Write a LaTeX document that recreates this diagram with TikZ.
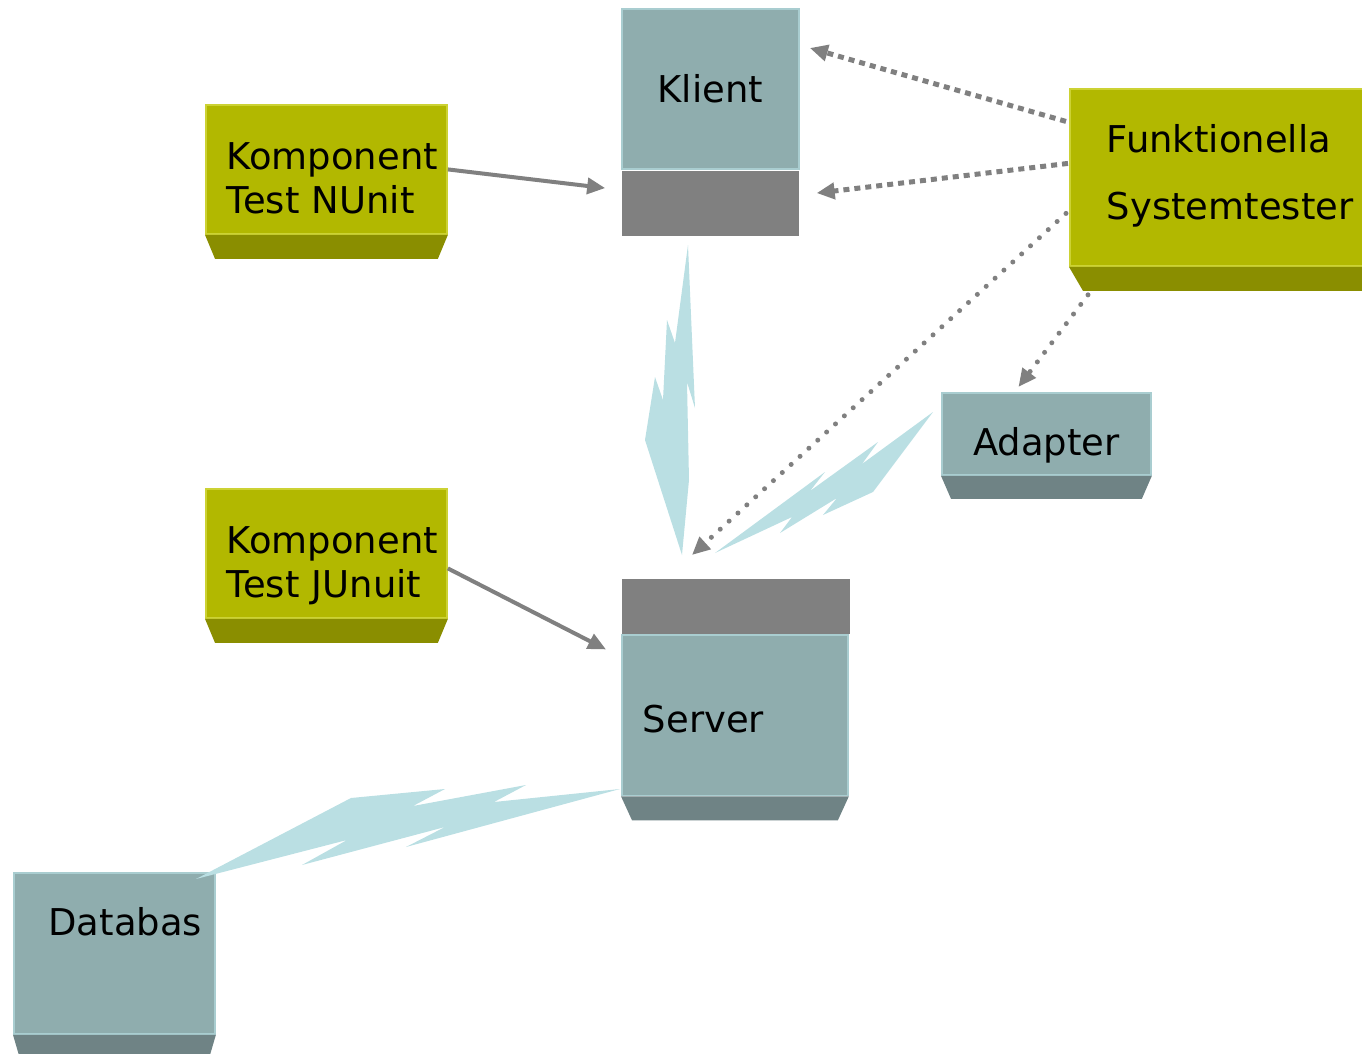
\documentclass[tikz,border=0pt]{standalone}
\usepackage{fontspec}
\setmainfont{DejaVu Sans}
\usetikzlibrary{positioning,calc,arrows.meta}

\definecolor{olivebox}{HTML}{B2B800}
\definecolor{olivedark}{HTML}{8A8E00}
\definecolor{oliveedge}{HTML}{CCD234}
\definecolor{tealbox}{HTML}{8FADAE}
\definecolor{tealdark}{HTML}{6F8385}
\definecolor{tealedge}{HTML}{A9CDD0}
\definecolor{barfill}{HTML}{808080}
\definecolor{boltblue}{HTML}{BADFE3}

% sloped foot under a box: node, colour, inset, depth
\newcommand{\boxbevel}[4]{%
  \fill[#2] (#1.south west) -- (#1.south east) -- ($(#1.south east)+(-#3,#4)$)
    -- ($(#1.south west)+(#3,#4)$) -- cycle;}

\begin{document}
\begin{tikzpicture}[x=0.01cm,y=-0.01cm,
    font=\fontsize{10.5}{12.5}\selectfont,
    box/.style={anchor=north west, inner ysep=0pt, line width=0.5pt},
    olive/.style={box, fill=olivebox, draw=oliveedge, align=left,
      inner xsep=0.21cm, text width=1.99cm},
    teal/.style={box, fill=tealbox, draw=tealedge},
    barbox/.style={fill=barfill, inner sep=0pt},
    pipe/.style={draw=barfill, line width=0.04cm,
      -{Triangle[length=0.18cm,width=0.16cm]}},
    sqdots/.style={pipe, line width=0.05cm, dash pattern=on 0.06cm off 0.05cm},
    rounddots/.style={pipe, line width=0.05cm, line cap=round,
      dash pattern=on 0pt off 0.12cm},
    bolt/.style={fill=boltblue}]

  \useasboundingbox (0,0) rectangle (1362,1054);
  \clip (0,0) rectangle (1362,1054);

  % test boxes
  \node[olive, minimum height=1.29cm, text height=0.30cm, text depth=0.29cm]
    (nunit) at (205,104) {Komponent\\Test NUnit};
  \node[olive, minimum height=1.29cm, text height=0.30cm, text depth=0.29cm]
    (junit) at (205,488) {Komponent\\Test JUnuit};
  \node[olive, minimum height=1.77cm, inner xsep=0.37cm, text width=2.7cm,
    text height=0.30cm, text depth=0.79cm, font=\fontsize{10.5}{18.9}\selectfont]
    (funk) at (1069,88) {Funktionella\\Systemtester};

  % system parts
  \node[teal, minimum height=1.60cm, inner xsep=0pt, text width=1.77cm,
    align=center, text height=0.30cm, text depth=0.03cm]
    (klient) at (621,8) {Klient};
  \node[barbox, minimum width=1.77cm, minimum height=0.65cm, below=0pt of klient]
    (klientbar) {};
  \node[teal, minimum height=0.82cm, inner xsep=0pt, text width=2.09cm,
    align=center, text height=0.50cm, text depth=0.06cm]
    (adapter) at (941,392) {Adapter};
  \node[barbox, minimum width=2.28cm, minimum height=0.55cm, anchor=north west]
    (serverbar) at (621,578) {};
  \node[teal, minimum height=1.60cm, inner xsep=0.21cm, text width=1.84cm,
    align=left, text height=0.40cm, text depth=0.06cm,
    below right=0pt and 0pt of serverbar.south west] (server) {Server};
  \node[teal, minimum height=1.61cm, inner xsep=0.13cm, text width=1.75cm,
    align=right, text height=0.10cm, text depth=0.45cm]
    (db) at (13,872) {Databas};

  \boxbevel{nunit}{olivedark}{10}{24}
  \boxbevel{junit}{olivedark}{10}{24}
  \boxbevel{funk}{olivedark}{14}{24}
  \boxbevel{adapter}{tealdark}{10}{23}
  \boxbevel{server}{tealdark}{11}{24}
  \boxbevel{db}{tealdark}{7}{24}

  % links
  \fill[bolt] (688,245) -- (695,408) -- (687,382) -- (689,480) -- (682,555)
    -- (645,440) -- (655,377) -- (663,400) -- (667,320) -- (675,343) -- cycle;
  \fill[bolt] (715,553) -- (825,472) -- (810,491) -- (878,442) -- (862,464)
    -- (933,412) -- (873,492) -- (823,515) -- (837,498) -- (780,533)
    -- (792,517) -- cycle;
  \fill[bolt] (620,789) -- (494,802) -- (526,785) -- (413,806) -- (445,789)
    -- (351,798) -- (196,879) -- (347,840) -- (302,865) -- (445,827)
    -- (406,847) -- cycle;

  \path (nunit.east) edge[pipe] ($(klientbar.west)+(-16,-15)$);
  \path ($(junit.east)+(0,15)$) edge[pipe] ($(server.north west)+(-15,15)$);
  \path ($(funk.west)+(-3,-56)$) edge[sqdots] ($(klient.north east)+(10,40)$);
  \path ($(funk.west)+(-1,-14)$) edge[sqdots] ($(klientbar.east)+(17,-10)$);
  \path ($(funk.west)+(-3,36)$) edge[rounddots] ($(serverbar.north west)+(71,-23)$);
  \path ($(funk.south west)+(19,28)$) edge[rounddots] ($(adapter.north)+(-28,-5)$);

\end{tikzpicture}
\end{document}
